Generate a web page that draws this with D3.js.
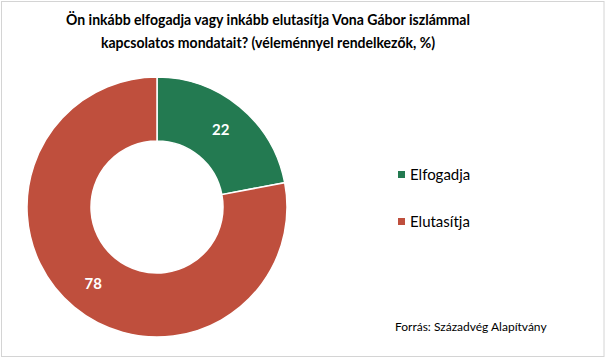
<!DOCTYPE html>
<html>
<head>
<meta charset="utf-8">
<script src="https://cdn.jsdelivr.net/npm/d3@7"></script>
<style>
  body { margin: 0; background: #fff; }
  text { font-family: Lato, "Open Sans", sans-serif; }
</style>
</head>
<body>
<script>
const categories = ["Elfogadja", "Elutasítja"];
const values = [22, 78];
const colors = ["#237a51", "#bf4f3d"];
const titleLines = ["Ön inkább elfogadja vagy inkább elutasítja Vona Gábor iszlámmal",
                    "kapcsolatos mondatait? (véleménnyel rendelkezők, %)"];
const titleWidths = [404, 334];
const source = "Forrás: Századvég Alapítvány";

const width = 607, height = 360;
const cx = 157, cy = 207, outer = 130, inner = 66;

const svg = d3.select("body").append("svg")
    .attr("width", width)
    .attr("height", height);

// frame
svg.append("rect")
    .attr("x", 1.5).attr("y", 1.5)
    .attr("width", 602.5).attr("height", 355)
    .attr("fill", "#fff")
    .attr("stroke", "#d4d4d4");

svg.append("g")
    .attr("text-anchor", "middle")
    .attr("font-weight", "bold")
    .attr("font-size", 16)
    .attr("fill", "#000")
  .selectAll("text")
  .data(titleLines)
  .join("text")
    .attr("x", 268)
    .attr("y", (d, i) => 25 + i * 23)
    .attr("textLength", (d, i) => titleWidths[i])
    .attr("lengthAdjust", "spacingAndGlyphs")
    .text(d => d);

const pie = d3.pie().sort(null).value(d => d.value);
const arcs = pie(categories.map((c, i) => ({name: c, value: values[i], color: colors[i]})));

const arc = d3.arc().innerRadius(inner).outerRadius(outer);
const labelArc = d3.arc().innerRadius(100).outerRadius(100);

const g = svg.append("g").attr("transform", `translate(${cx},${cy})`);

g.selectAll("path")
  .data(arcs)
  .join("path")
    .attr("d", arc)
    .attr("fill", d => d.data.color)
    .attr("stroke", "#fff")
    .attr("stroke-width", 1.5);

g.selectAll("text")
  .data(arcs)
  .join("text")
    .attr("transform", d => `translate(${labelArc.centroid(d)})`)
    .attr("text-anchor", "middle")
    .attr("dy", "0.35em")
    .attr("fill", "#fff")
    .attr("font-weight", "bold")
    .attr("font-size", 15)
    .text(d => d.data.value);

const legend = svg.append("g")
  .selectAll("g")
  .data(arcs)
  .join("g")
    .attr("transform", (d, i) => `translate(398,${175 + i * 47})`);

legend.append("rect")
    .attr("x", 0).attr("y", -4)
    .attr("width", 7).attr("height", 7)
    .attr("fill", d => d.data.color);

legend.append("text")
    .attr("x", 12)
    .attr("dy", "0.35em")
    .attr("font-size", 15)
    .attr("fill", "#000")
    .text(d => d.data.name);

svg.append("text")
    .attr("x", 395)
    .attr("y", 331)
    .attr("font-size", 12)
    .attr("fill", "#000")
    .text(source);
</script>
</body>
</html>
